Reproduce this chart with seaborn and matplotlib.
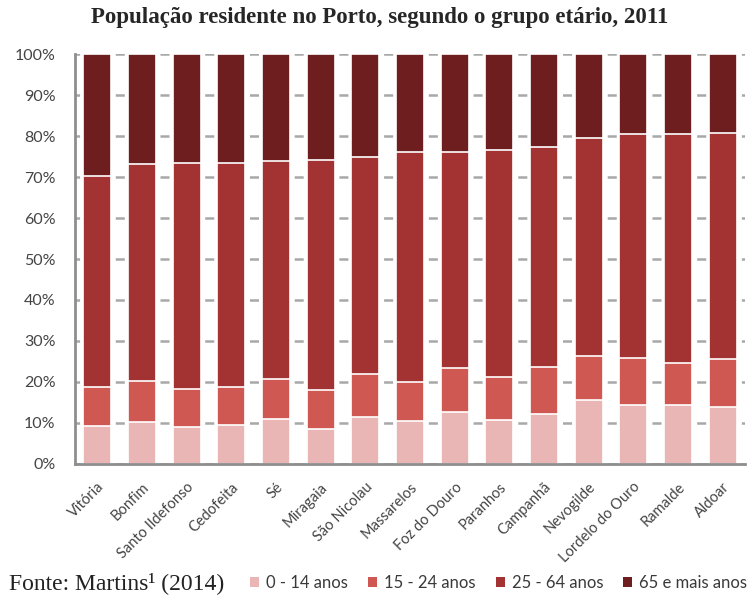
import numpy as np
import pandas as pd
import matplotlib
matplotlib.use("Agg")
import matplotlib.pyplot as plt
from matplotlib.patches import Patch
from matplotlib.ticker import FixedLocator
import seaborn as sns

# dados (percentagens)
freguesias = ['Vitória', 'Bonfim', 'Santo Ildefonso', 'Cedofeita', 'Sé', 'Miragaia',
              'São Nicolau', 'Massarelos', 'Foz do Douro', 'Paranhos', 'Campanhã',
              'Nevogilde', 'Lordelo do Ouro', 'Ramalde', 'Aldoar']
g_0_14 = [9.2, 10.2, 8.9, 9.4, 11.0, 8.5, 11.5, 10.4, 12.7, 10.7, 12.3, 15.6, 14.4, 14.3, 14.0]
g_15_24 = [9.6, 10.0, 9.4, 9.3, 9.7, 9.6, 10.4, 9.7, 10.8, 10.6, 11.4, 10.8, 11.4, 10.4, 11.7]
g_25_64 = [51.5, 52.9, 55.1, 54.7, 53.1, 56.0, 53.1, 56.0, 52.5, 55.3, 53.5, 53.0, 54.7, 55.8, 55.0]
g_65 = [29.7, 26.9, 26.6, 26.6, 26.2, 25.9, 25.0, 23.9, 24.0, 23.4, 22.8, 20.6, 19.5, 19.5, 19.3]
grupos = ['0 - 14 anos', '15 - 24 anos', '25 - 64 anos', '65 e mais anos']
cores = ['#e9b6b5', '#cf5852', '#a33333', '#6f1e1f']

plt.rcParams['lines.scale_dashes'] = False
sns.set_style('white')
plt.rcParams['font.family'] = ['Lato', 'DejaVu Sans']

df = pd.DataFrame({'freguesia': freguesias, grupos[0]: g_0_14, grupos[1]: g_15_24,
                   grupos[2]: g_25_64, grupos[3]: g_65})
cum = df[grupos].cumsum(axis=1)
cum['freguesia'] = df['freguesia']

fig = plt.figure(figsize=(7.55, 6.05), dpi=100)
ax = fig.add_axes([0.0993, 0.2331, 0.8875, 0.6776])

# desenhar de cima para baixo (sobreposição = barras empilhadas)
for g, c in reversed(list(zip(grupos, cores))):
    sns.barplot(data=cum, x='freguesia', y=g, color=c, saturation=1, width=0.63,
                edgecolor='white', linewidth=1.2, ax=ax, zorder=3)

grey = '#8e8e8e'
ax.set_xlim(-0.5, len(freguesias) - 0.5)
ax.set_ylim(0, 100)
ax.set_yticks(np.arange(0, 101, 10))
ax.set_yticklabels([f'{v}%' for v in range(0, 101, 10)])
ax.set_xlabel('')
ax.set_ylabel('')

ax.xaxis.set_minor_locator(FixedLocator(np.arange(-0.5, len(freguesias), 1)))
ax.tick_params(axis='x', which='major', length=0, pad=11.5, labelsize=10.5)
ax.tick_params(axis='x', which='minor', length=6, width=1.5, color=grey, direction='out')
ax.tick_params(axis='y', length=6, width=1.5, color=grey, direction='out', pad=8,
               labelsize=11.5)
ax.tick_params(labelcolor='#444444')
plt.setp(ax.get_xticklabels(), rotation=45, ha='right', rotation_mode='anchor')

for s in ['top', 'right']:
    ax.spines[s].set_visible(False)
for s in ['left', 'bottom']:
    ax.spines[s].set_color(grey)
    ax.spines[s].set_linewidth(2)
    ax.spines[s].set_zorder(4)

# grelha tracejada, visível apenas entre as barras
ax.yaxis.grid(True, color='#a8a8a8', linewidth=1.8, linestyle=(3.2, (6.5, 25.7)), zorder=0)
ax.set_axisbelow(True)

fig.text(0.503, 0.971, 'População residente no Porto, segundo o grupo etário, 2011',
         ha='center', va='center', fontsize=16.5, fontweight='bold',
         family=['Liberation Serif', 'DejaVu Serif'])
fig.text(0.012, 0.036, 'Fonte: Martins¹ (2014)', ha='left', va='center', fontsize=17,
         family=['Liberation Serif', 'DejaVu Serif'], color='#222222')

handles = [Patch(facecolor=c, edgecolor='none') for c in cores]
fig.legend(handles, grupos, loc='center left', bbox_to_anchor=(0.331, 0.036), ncol=4,
           frameon=False, fontsize=12, handlelength=0.55, handleheight=0.55,
           handletextpad=0.42, columnspacing=1.2, labelcolor='#3a3a3a',
           borderaxespad=0, borderpad=0)

fig.savefig('out.png', dpi=100)
